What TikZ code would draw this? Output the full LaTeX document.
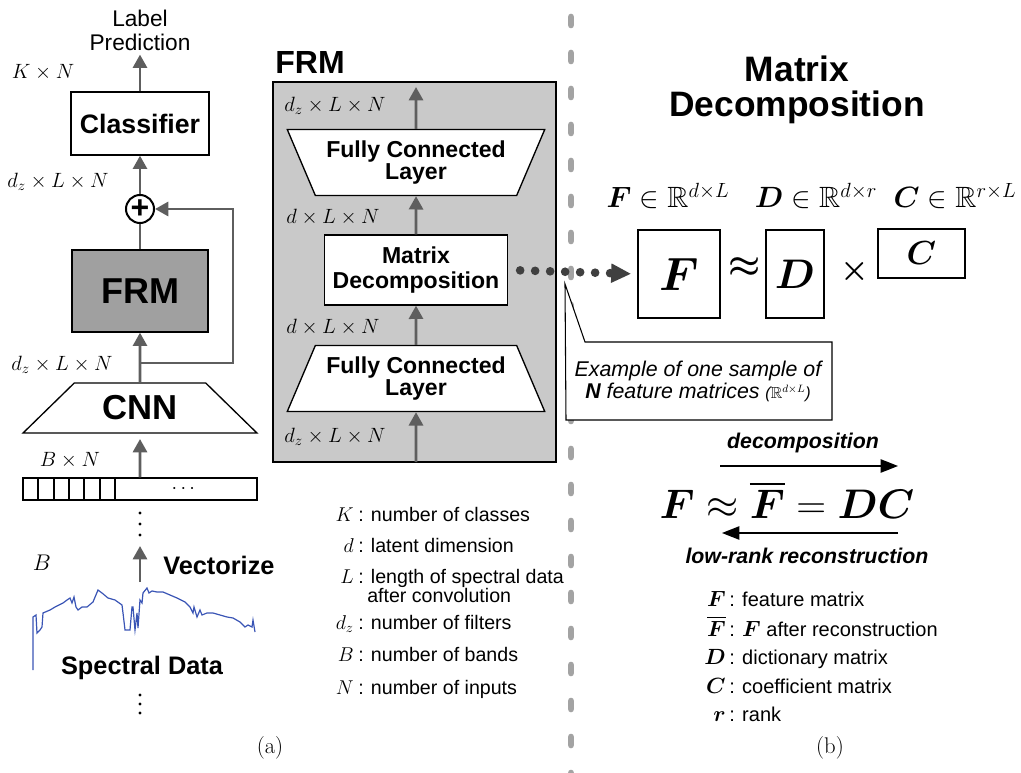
\RequirePackage{fix-cm}
\documentclass[tikz,border=0pt]{standalone}
\usepackage{amsmath,amssymb,bm}
\usepackage{fontspec}
\setsansfont{Liberation Sans}
\usetikzlibrary{arrows.meta,shapes.geometric,positioning}
\definecolor{arrowgray}{HTML}{5E5E5E}
\definecolor{frmgray}{HTML}{A0A0A0}
\definecolor{panelgray}{HTML}{C9C9C9}
\definecolor{dividergray}{HTML}{A3A3A3}
\definecolor{spectrumblue}{HTML}{3A55B5}

\begin{document}
\begin{tikzpicture}[
        x=0.75pt,
        y=-0.75pt,
        every node/.style={inner sep=0pt, font=\sffamily},
        flow/.style={draw=arrowgray, line width=2.2pt, -{Triangle[width=10.5pt,length=10pt]}},
        thinflow/.style={line width=1.1pt, -{Triangle[width=10pt,length=13pt]}},
        dotflow/.style={draw=black!75, line width=6.5pt, line cap=round, dash pattern=on 0pt off 11.25pt,
            shorten <=9pt, shorten >=4.5pt, -{Triangle[width=13.5pt,length=15pt]}},
        plainbox/.style={draw, fill=white, line width=1pt, align=center},
        layerbox/.style={plainbox, font=\sffamily\bfseries\fontsize{17.3}{19}\selectfont},
        fclayer/.style={layerbox, trapezium, trapezium stretches=true, minimum width=193.5pt,
            minimum height=49.5pt, trapezium left angle=#1, trapezium right angle=#1,
            font=\sffamily\bfseries\fontsize{17.3}{16}\selectfont},
        matbox/.style={draw, line width=1.2pt},
        bigbold/.style={font=\sffamily\bfseries\fontsize{#1}{#1}\selectfont},
        dimlabel/.style={font=\fontsize{15.5}{17}\selectfont},
        arrowtext/.style={font=\sffamily\bfseries\itshape\fontsize{16}{18}\selectfont},
        legsym/.style={anchor=base east, font=\fontsize{15}{17}\selectfont},
        legtext/.style={anchor=base west, font=\sffamily\fontsize{14.7}{15}\selectfont},
        rlegsym/.style={anchor=base east, font=\fontsize{16.5}{18}\selectfont},
        rlegtext/.style={anchor=base west, font=\sffamily\fontsize{15}{16}\selectfont},
        caption/.style={font=\rmfamily\fontsize{17}{19}\selectfont}
    ]
        \useasboundingbox (0,0) rectangle (1021,773);

        % Network
        \node[font=\sffamily\fontsize{17}{18}\selectfont, align=center] (labelpred) at (140,30) {Label\\Prediction};
        \node[plainbox, bigbold=20, minimum width=103.5pt, minimum height=47.25pt] (classifier) at (140,123.5) {Classifier};
        \node[circle, draw, line width=1.5pt, minimum size=21pt, bigbold=24] (plus) at (140,209) {+};
        \node[plainbox, fill=frmgray, bigbold=27, minimum width=102pt, minimum height=61.5pt] (frmblock) at (140,291) {FRM};
        \node[trapezium, draw, line width=1pt, trapezium stretches=true, minimum width=177pt, minimum height=37.5pt,
            trapezium left angle=40, trapezium right angle=40, bigbold=26] (cnn) at (140,408) {CNN};
        \node[draw, line width=0.8pt, minimum width=175.5pt, minimum height=16.5pt] (strip) at (140,489) {};
        \foreach \cx in {38,54,69,84,100,115}
            \draw[line width=0.8pt] (\cx,478) -- (\cx,500);
        \node[font=\fontsize{15}{15}\selectfont] (stripdots) at (185,489) {$\cdots$};

        \node[dimlabel] (kn) at (43,72) {$K\times N$};
        \node[dimlabel] (dzclass) at (58,182) {$d_z\times L\times N$};
        \node[dimlabel] (dzcnn) at (62,365) {$d_z\times L\times N$};
        \node[dimlabel] (bn) at (70,460) {$B\times N$};
        \node[font=\fontsize{17}{17}\selectfont] (bands) at (42,563) {$B$};

        \coordinate (split) at (140,363);
        \draw[flow] (classifier.north) -- ([yshift=-3pt]labelpred.south);
        \draw[flow] (plus.north) -- (classifier.south);
        \draw[draw=arrowgray, line width=2.2pt] (frmblock.north) -- (plus.south);
        \draw[flow] (cnn.north) -- (frmblock.south);
        \draw[flow] (split) -- ++(93,0) |- (plus.east);
        \draw[flow] (strip.north) -- ([yshift=-4pt]cnn.south);

        % Spectral input
        \foreach \dy in {513,524,535,695,704,713}
            \fill (140,\dy) circle[radius=1.15pt];
        \coordinate (vecstart) at (140,582);
        \coordinate (vecend) at (140,546);
        \draw[flow] (vecstart) -- (vecend);
        \node[bigbold=19, anchor=west] (vectorize) at (163,565) {Vectorize};
        \draw[spectrumblue, line width=0.9pt] plot coordinates {
            (33,670) (33,617) (36,615) (37,633) (40,630) (42,627) (43,613) (50,610) (55,607)
            (63,603) (67,600) (70,598) (72,603) (74,597) (76,607) (78,610) (82,607) (87,607)
            (93,602) (98,590) (102,593) (108,598) (115,600) (122,605) (123,613) (125,630)
            (130,630) (132,607) (133,607) (135,630) (137,613) (138,628) (140,600) (142,603)
            (143,593) (147,588) (149,593) (152,591) (157,592) (163,592) (170,595) (177,598)
            (185,602) (190,607) (193,613) (194,607) (197,617) (200,610) (202,615) (207,613)
            (213,613) (220,615) (227,617) (233,618) (240,622) (245,627) (248,625) (252,627)
            (253,620) (255,632)};
        \node[bigbold=19] (spectral) at (142,668) {Spectral Data};
        \node[caption] (capa) at (270,748) {(a)};

        % FRM panel
        \node[draw, fill=panelgray, line width=1pt, minimum width=212.25pt, minimum height=285pt] (panel) at (414.5,272) {};
        \node[bigbold=24] (paneltitle) at (310,62) {FRM};
        \node[fclayer=120.3] (topfc) at (416,162.5) {Fully Connected\\Layer};
        \node[layerbox, minimum width=137.25pt, minimum height=52.5pt] (md) at (416,270) {Matrix\\Decomposition};
        \node[fclayer=59.7] (botfc) at (416,378.5) {Fully Connected\\Layer};

        \node[dimlabel] (dzout) at (335,106) {$d_z\times L\times N$};
        \node[dimlabel] (dmdout) at (333,217) {$d\times L\times N$};
        \node[dimlabel] (dmdin) at (333,327) {$d\times L\times N$};
        \node[dimlabel] (dzin) at (335,437) {$d_z\times L\times N$};

        \coordinate (paneltop) at (416,87);
        \coordinate (panelbot) at (416,462);
        \draw[flow] (topfc.north) -- (paneltop);
        \draw[flow] (md.north) -- (topfc.south);
        \draw[flow] (botfc.north) -- (md.south);
        \draw[flow] (panelbot) -- (botfc.south);

        % Legend (a)
        \node[legsym] (ksym) at (354,521) {$K$};
        \node[legtext] (ktext) at (358,521) {: number of classes};
        \node[legsym] (dsym) at (354,552) {$d$};
        \node[legtext] (dtext) at (358,552) {: latent dimension};
        \node[legsym] (lsym) at (354,583) {$L$};
        \node[legtext] (ltext) at (358,583) {: length of spectral data};
        \node[legtext] (ltexttwo) at (367,602) {after convolution};
        \node[legsym] (dzsym) at (354,629) {$d_z$};
        \node[legtext] (dztext) at (358,629) {: number of filters};
        \node[legsym] (bsym) at (354,661) {$B$};
        \node[legtext] (btext) at (358,661) {: number of bands};
        \node[legsym] (nsym) at (354,694) {$N$};
        \node[legtext] (ntext) at (358,694) {: number of inputs};

        % Divider
        \draw[dividergray, line width=5pt, line cap=round, dash pattern=on 6pt off 21pt] (571,17) -- (571,773);

        % Matrix decomposition
        \node[font=\sffamily\bfseries\fontsize{26.5}{26}\selectfont, align=center] (mdtitle) at (797,90) {Matrix\\Decomposition};
        \node[font=\fontsize{22}{22}\selectfont] (flabel) at (668,196) {$\bm{F}\in\mathbb{R}^{d\times L}$};
        \node[font=\fontsize{22}{22}\selectfont] (dlabel) at (816,196) {$\bm{D}\in\mathbb{R}^{d\times r}$};
        \node[font=\fontsize{22}{22}\selectfont] (clabel) at (955,196) {$\bm{C}\in\mathbb{R}^{r\times L}$};
        \node[matbox, minimum width=61.5pt, minimum height=66pt, font=\fontsize{35}{35}\selectfont] (fbox) at (679,274) {$\bm{F}$};
        \node[matbox, minimum width=43.5pt, minimum height=66pt, font=\fontsize{31}{31}\selectfont] (dbox) at (795,274) {$\bm{D}$};
        \node[matbox, minimum width=65.25pt, minimum height=36.75pt, font=\fontsize{25}{25}\selectfont] (cbox) at (921.5,253.5) {$\bm{C}$};
        \node[font=\fontsize{27}{27}\selectfont] (approx) at (745,268) {$\bm{\approx}$};
        \node[font=\fontsize{24}{24}\selectfont] (times) at (855,272) {$\bm{\times}$};

        % Callout
        \draw[fill=white, line width=0.8pt] (565,284) -- (585,342) -- (832,342) -- (832,420) -- (566,420) -- cycle;
        \node[font=\sffamily\itshape\fontsize{16}{16.5}\selectfont, align=center] (callout) at (698,381)
            {Example of one sample of\\\textbf{N} feature matrices {\fontsize{12}{12}\selectfont($\mathbb{R}^{d\times L}$)}};
        \draw[dotflow] (md.east) -- (fbox.west);

        % Decomposition / reconstruction
        \node[arrowtext] (decomp) at (803,443) {decomposition};
        \node[font=\fontsize{31}{31}\selectfont] (eq) at (787,500) {$\bm{F}\approx\overline{\bm{F}}=\bm{DC}$};
        \node[arrowtext] (lowrank) at (807,556) {low-rank reconstruction};
        \coordinate (decstart) at (720,466);
        \coordinate (decend) at (898,466);
        \coordinate (recstart) at (898,533);
        \coordinate (recend) at (722,533);
        \draw[thinflow] (decstart) -- (decend);
        \draw[thinflow] (recstart) -- (recend);

        % Legend (b)
        \node[rlegsym] (fsym) at (726,606) {$\bm{F}$};
        \node[rlegtext] (ftext) at (729,606) {: feature matrix};
        \node[rlegsym] (fbarsym) at (726,636) {$\overline{\bm{F}}$};
        \node[rlegtext] (fbartext) at (729,636) {: {\fontsize{16.5}{18}\selectfont$\bm{F}$} after reconstruction};
        \node[rlegsym] (dlsym) at (726,664) {$\bm{D}$};
        \node[rlegtext] (dltext) at (729,664) {: dictionary matrix};
        \node[rlegsym] (clsym) at (726,693) {$\bm{C}$};
        \node[rlegtext] (cltext) at (729,693) {: coefficient matrix};
        \node[rlegsym] (rsym) at (726,721) {$\bm{r}$};
        \node[rlegtext] (rtext) at (729,721) {: rank};
        \node[caption] (capb) at (830,748) {(b)};
    \end{tikzpicture}
\end{document}
